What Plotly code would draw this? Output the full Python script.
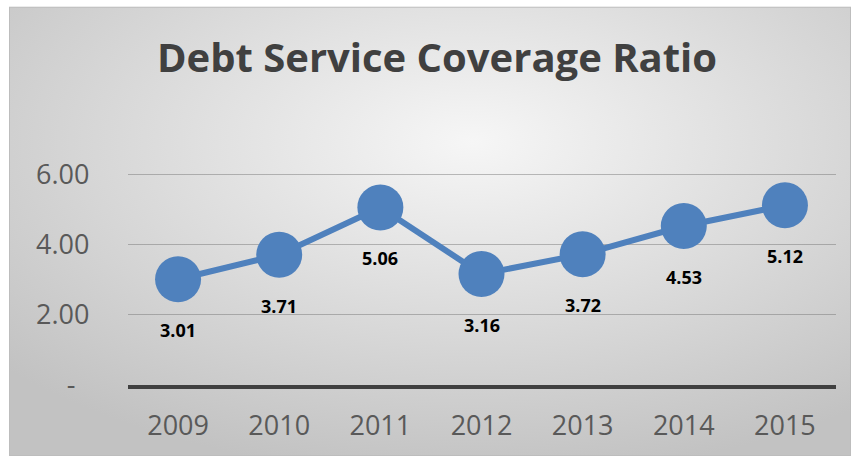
import base64
import plotly.graph_objects as go

years = ["2009", "2010", "2011", "2012", "2013", "2014", "2015"]
dscr = [3.01, 3.71, 5.06, 3.16, 3.72, 4.53, 5.12]
label_text = ["3.01", "3.71", "5.06", "3.16", "3.72", "4.53", "5.12"]
ytick_vals = [0, 2, 4, 6]
ytick_text = ["-\u00a0\u00a0", "2.00", "4.00", "6.00"]
title_text = "Debt Service Coverage Ratio"

W, H = 851, 473
BLUE = "#4f81bd"

svg = f'''<svg xmlns="http://www.w3.org/2000/svg" width="842" height="466" viewBox="0 0 842 466">
<defs><radialGradient id="g" cx="0.55" cy="0.3" r="0.75">
<stop offset="0" stop-color="#f6f6f6"/><stop offset="1" stop-color="#c2c2c2"/>
</radialGradient></defs>
<rect x="0" y="0" width="842" height="466" fill="url(#g)" stroke="#bdbdbd" stroke-width="2"/>
</svg>'''
bg_src = "data:image/svg+xml;base64," + base64.b64encode(svg.encode()).decode()

x_left, x_right = 127.5, 835.5
y_zero, y_six = 399, 181
ymax = 7
px_per_unit = (y_zero - y_six) / 6
y_top = y_zero - ymax * px_per_unit

fig = go.Figure()
fig.add_trace(go.Scatter(
    x=years, y=dscr, mode="lines+markers",
    line=dict(color=BLUE, width=6),
    marker=dict(color=BLUE, size=46),
    cliponaxis=False, hoverinfo="skip",
))

for i, (v, t) in enumerate(zip(dscr, label_text)):
    fig.add_annotation(x=i, y=v, xref="x", yref="y", text=f"<b>{t}</b>", showarrow=False,
                       yshift=-51, font=dict(family="Open Sans", size=18, color="#000000"))

fig.add_layout_image(dict(source=bg_src, xref="paper", yref="paper",
                          x=9 / W, y=1 - 7 / H, sizex=1 - 9 / W, sizey=1 - 7 / H,
                          xanchor="left", yanchor="top", sizing="stretch", layer="below"))

fig.update_layout(
    width=W, height=H, autosize=False,
    margin=dict(l=0, r=0, t=0, b=0),
    paper_bgcolor="white", plot_bgcolor="rgba(0,0,0,0)",
    showlegend=False,
    title=dict(text=f"<b>{title_text}</b>", x=437 / W, xanchor="center",
               y=1 - 58 / H, yanchor="middle",
               font=dict(family="Open Sans", size=40, color="#404040")),
    xaxis=dict(domain=[x_left / W, x_right / W], range=[-0.5, 6.5],
               type="category", showgrid=False, showline=True,
               linecolor="#404040", linewidth=4, ticks="",
               ticklabelstandoff=14,
               tickfont=dict(family="Open Sans", size=27, color="#595959")),
    yaxis=dict(domain=[(H - y_zero) / H, (H - y_top) / H], range=[0, ymax],
               tickvals=ytick_vals, ticktext=ytick_text,
               showgrid=True, gridcolor="rgba(110,110,110,0.45)", gridwidth=1.5,
               zeroline=False, showline=False, ticks="",
               ticklabelstandoff=37,
               tickfont=dict(family="Open Sans", size=27, color="#595959")),
)

fig.write_html("out.html",
               config={"responsive": False, "displayModeBar": False, "staticPlot": True},
               post_script="document.body.style.margin='0';document.body.style.overflow='hidden';")
